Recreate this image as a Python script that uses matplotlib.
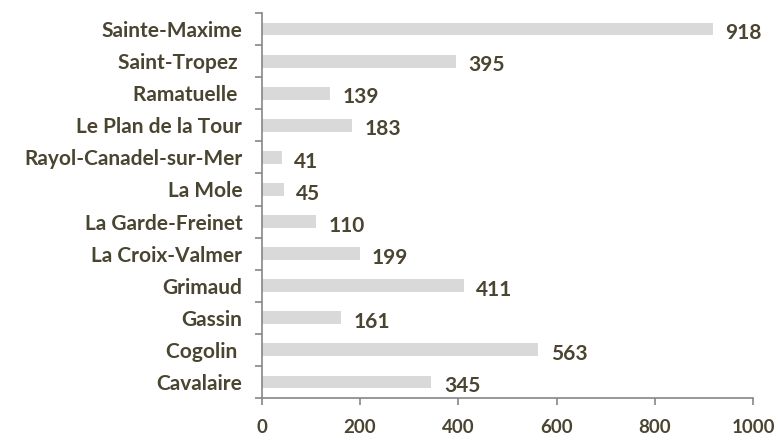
import matplotlib
matplotlib.use('Agg')
import matplotlib.pyplot as plt

communes = ['Cavalaire', 'Cogolin ', 'Gassin', 'Grimaud', 'La Croix-Valmer',
            'La Garde-Freinet', 'La Mole', 'Rayol-Canadel-sur-Mer',
            'Le Plan de la Tour', 'Ramatuelle ', 'Saint-Tropez ', 'Sainte-Maxime']
values = [345, 563, 161, 411, 199, 110, 45, 41, 183, 139, 395, 918]
xticks = [0, 200, 400, 600, 800, 1000]

text_color = '#4a4530'
axis_color = '#868686'

plt.rcParams['font.family'] = ['Lato', 'DejaVu Sans']

fig = plt.figure(figsize=(7.79, 4.41), dpi=100)
ax = fig.add_axes([0.336, 0.0975, 0.631, 0.873])

pos = range(len(communes))
ax.barh(pos, values, height=0.4, color='#d9d9d9')

for y, v in zip(pos, values):
    ax.annotate(str(v), (v, y), xytext=(9, -3), textcoords='offset points',
                va='center', ha='left', fontsize=15, fontweight='bold', color=text_color)

ax.set_xlim(0, 1000)
ax.set_ylim(-0.5, len(communes) - 0.5)
ax.set_yticks(pos)
ax.set_yticklabels(communes, fontsize=15, fontweight='bold', color=text_color)
ax.set_yticks([p + 0.5 for p in range(-1, len(communes))], minor=True)
ax.tick_params(axis='y', which='major', length=0, pad=14)
ax.tick_params(axis='y', which='minor', length=5, color=axis_color, width=1.2)
ax.set_xticks(xticks)
ax.set_xticklabels([str(t) for t in xticks], fontsize=13.5, fontweight='bold', color=text_color)
ax.tick_params(axis='x', length=5, color=axis_color, width=1.2, pad=10)

for s in ['top', 'right']:
    ax.spines[s].set_visible(False)
for s in ['left', 'bottom']:
    ax.spines[s].set_color(axis_color)
    ax.spines[s].set_linewidth(1.2)

fig.savefig('out.png', dpi=100)
